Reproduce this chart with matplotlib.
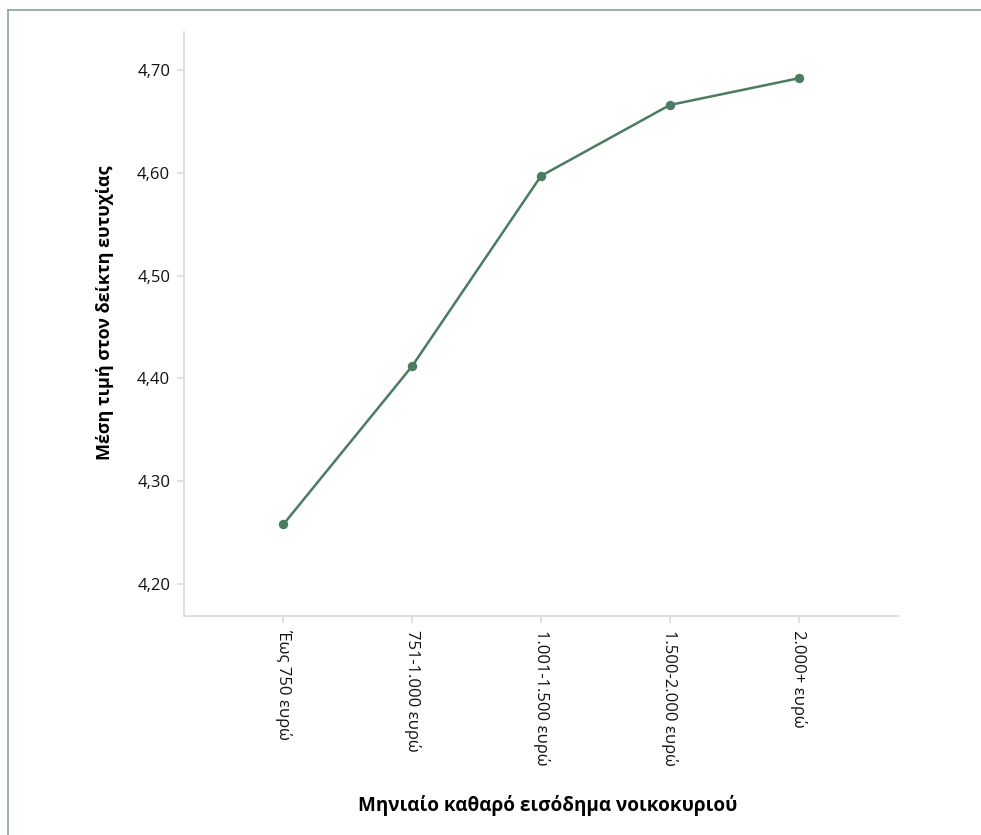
import matplotlib
matplotlib.use("Agg")
import matplotlib.pyplot as plt
from matplotlib.lines import Line2D

# data
income_groups = ["Έως 750 ευρώ", "751-1.000 ευρώ", "1.001-1.500 ευρώ",
                 "1.500-2.000 ευρώ", "2.000+ ευρώ"]
happiness_mean = [4.258, 4.412, 4.597, 4.666, 4.692]
y_ticks = [4.2, 4.3, 4.4, 4.5, 4.6, 4.7]

LINE_COLOR = "#4b7b61"
AXIS_COLOR = "#dcdcdc"
FONTS = ["Open Sans", "Noto Sans", "DejaVu Sans"]

plt.rcParams["font.family"] = FONTS

fig = plt.figure(figsize=(9.81, 8.35), dpi=100)
ax = fig.add_axes([0.1876, 0.2623, 0.7278, 0.6994])

x = list(range(len(income_groups)))
ax.plot(x, happiness_mean, color=LINE_COLOR, lw=1.8, marker="o",
        markersize=6.8, markeredgewidth=0, solid_capstyle="round")

ax.set_xlim(-0.77, len(income_groups) - 1 + 0.77)
ax.set_ylim(4.169, 4.737)
ax.set_xticks(x)
ax.set_xticklabels(income_groups, rotation=270, ha="center", va="top",
                   fontsize=12, color="#111111")
ax.set_yticks(y_ticks)
ax.set_yticklabels([f"{v:.2f}".replace(".", ",") for v in y_ticks],
                   fontsize=12, color="#111111")

for side in ["top", "right"]:
    ax.spines[side].set_visible(False)
for side in ["left", "bottom"]:
    ax.spines[side].set_color(AXIS_COLOR)
    ax.spines[side].set_linewidth(1.3)
ax.tick_params(axis="both", color=AXIS_COLOR, width=1.2, length=5, pad=5)

fig.text(0.558, 0.035, "Μηνιαίο καθαρό εισόδημα νοικοκυριού", ha="center",
         va="center", fontsize=13.6, fontweight="bold", family=FONTS)
fig.text(0.107, 0.626, "Μέση τιμή στον δείκτη ευτυχίας", ha="center",
         va="center", rotation=90, fontsize=13, fontweight="bold", family=FONTS)

# frame visible on top and left edges
fig.add_artist(Line2D([0.008, 0.008], [0, 0.988], transform=fig.transFigure,
                      color="#86a596", lw=1.2))
fig.add_artist(Line2D([0.008, 1.0], [0.988, 0.988], transform=fig.transFigure,
                      color="#86a596", lw=1.2))

fig.savefig("out.png", dpi=100)
